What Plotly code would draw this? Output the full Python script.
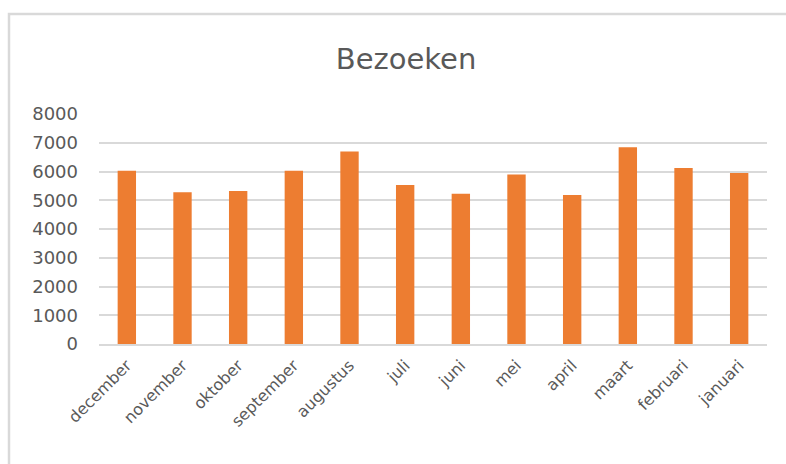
import plotly.graph_objects as go

months = ["december", "november", "oktober", "september", "augustus", "juli",
          "juni", "mei", "april", "maart", "februari", "januari"]
visits = [6030, 5280, 5320, 6030, 6700, 5530, 5230, 5900, 5180, 6840, 6120, 5950]
y_ticks = [0, 1000, 2000, 3000, 4000, 5000, 6000, 7000, 8000]

W, H = 786, 464
L, R, T, B = 99, 19, 114, 120
pw, ph = W - L - R, H - T - B
FONT = "DejaVu Sans, sans-serif"
GREY = "#595959"

fig = go.Figure(go.Bar(x=months, y=visits, marker_color="#ED7D31",
                       marker_line_width=0))

fig.update_layout(
    width=W, height=H,
    margin=dict(l=L, r=R, t=T, b=B, pad=0),
    paper_bgcolor="white", plot_bgcolor="white",
    bargap=0.67,
    showlegend=False,
    font=dict(family=FONT, color=GREY),
    title=dict(text="Bezoeken", x=(406 - L) / pw, xref="paper", xanchor="center",
               y=1 - 59 / H, yanchor="middle", font=dict(size=29, color=GREY)),
    xaxis=dict(tickangle=-45, tickfont=dict(size=16, color=GREY),
               showgrid=False, showline=True, linecolor="#d9d9d9", linewidth=1.5,
               ticks="", ticklen=0, ticklabelstandoff=4),
    yaxis=dict(range=[0, 8000], tickvals=y_ticks, tickfont=dict(size=18, color=GREY),
               showgrid=True, gridcolor="#d9d9d9", gridwidth=1.5,
               zeroline=False, showline=False, ticks="", ticklabelstandoff=20),
    shapes=[dict(type="rect", xref="paper", yref="paper",
                 x0=(9 - L) / pw, x1=(W + 20 - L) / pw,
                 y0=-(H + 20 - (H - B)) / ph, y1=((H - B) - 14) / ph,
                 line=dict(color="#d9d9d9", width=2.5), fillcolor="rgba(0,0,0,0)",
                 layer="below")],
)

fig.write_html("out.html", config={"displayModeBar": False},
               post_script="document.body.style.margin='0px';")
